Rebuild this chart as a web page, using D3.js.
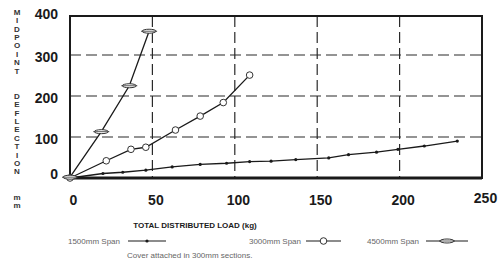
<!DOCTYPE html>
<html>
<head>
<meta charset="utf-8">
<script src="https://cdn.jsdelivr.net/npm/d3@7"></script>
<style>
  body { margin: 0; background: #fff; }
  svg { display: block; font-family: "Liberation Sans", Arial, sans-serif; }
</style>
</head>
<body>
<div id="chart"></div>
<script>
// 데이터: [하중(kg), 처짐(mm)]
const span1500 = [[0,0],[20,11],[32,14],[46,19],[62,27],[79,33],[95,36],[109,40],[122,41],[137,45],[157,49],[169,57],[186,63],[199,70],[215,78],[235,90]];
const span3000 = [[0,0],[22,42],[37,70],[46,75],[64,117],[79,151],[93,184],[109,251]];
const span4500 = [[0,2],[19,113],[36,225],[48,358]];

const xTicks = [0, 50, 100, 150, 200, 250];
const yTicks = [0, 100, 200, 300, 400];
const legendLabels = ['1500mm Span', '3000mm Span', '4500mm Span'];

const W = 502, H = 264;
const svg = d3.select('#chart').append('svg')
    .attr('width', W).attr('height', H);

const x = d3.scaleLinear().domain([0, 250]).range([70, 482]);
const y = d3.scaleLinear().domain([0, 400]).range([178, 14]);

const ink = '#1a1a1a';

// 격자 (점선)
svg.append('g').selectAll('line')
    .data(yTicks.slice(1, 4))
    .enter().append('line')
    .attr('x1', x(0)).attr('x2', x(250))
    .attr('y1', d => y(d)).attr('y2', d => y(d))
    .attr('stroke', '#2a2a2a').attr('stroke-width', 1.2)
    .attr('stroke-dasharray', '11,5');

svg.append('g').selectAll('line')
    .data(xTicks.slice(1, 5))
    .enter().append('line')
    .attr('x1', d => x(d)).attr('x2', d => x(d))
    .attr('y1', 16).attr('y2', y(0))
    .attr('stroke', '#2a2a2a').attr('stroke-width', 1.2)
    .attr('stroke-dasharray', '11,5');

// 테두리
svg.append('rect')
    .attr('x', x(0)).attr('y', 16)
    .attr('width', x(250) - x(0)).attr('height', y(0) - 16)
    .attr('fill', 'none').attr('stroke', ink).attr('stroke-width', 2);
svg.append('line')
    .attr('x1', x(0)).attr('x2', x(250))
    .attr('y1', y(0)).attr('y2', y(0))
    .attr('stroke', ink).attr('stroke-width', 3);

// Y축 눈금
const yAxis = svg.append('g')
    .attr('transform', 'translate(58,0)')
    .call(d3.axisLeft(y).tickValues(yTicks).tickSize(0).tickPadding(0));
yAxis.select('.domain').remove();
yAxis.selectAll('text')
    .attr('y', (d) => d === 0 ? -4 : (d === 400 ? 0 : 2))
    .style('font-size', '14px').style('font-weight', 'bold')
    .style('font-family', '"Liberation Sans", Arial, sans-serif')
    .attr('fill', ink);

// X축 눈금
const xAxis = svg.append('g')
    .attr('transform', 'translate(3,200)')
    .call(d3.axisBottom(x).tickValues(xTicks).tickSize(0).tickPadding(0));
xAxis.select('.domain').remove();
xAxis.selectAll('text')
    .attr('dy', '0.35em')
    .attr('y', d => d === 250 ? -2 : 0)
    .style('font-size', '14px').style('font-weight', 'bold')
    .style('font-family', '"Liberation Sans", Arial, sans-serif')
    .attr('fill', ink);

// Y축 제목 (세로로 쌓인 글자)
const yTitle = [
    { text: 'MIDPOINT', start: 12 },
    { text: 'DEFLECTION', start: 96 },
    { text: 'mm', start: 197 }
];
yTitle.forEach(part => {
    part.text.split('').forEach((ch, i) => {
        svg.append('text')
            .attr('x', 17).attr('y', part.start + i * 8.4)
            .attr('text-anchor', 'middle').attr('dy', '0.35em')
            .style('font-size', '8px').style('font-weight', 'bold')
            .attr('fill', '#333')
            .text(ch);
    });
});

// X축 제목
svg.append('text')
    .attr('x', 195).attr('y', 225).attr('dy', '0.35em')
    .attr('text-anchor', 'middle')
    .style('font-size', '8px').style('font-weight', 'bold')
    .attr('fill', ink)
    .text('TOTAL DISTRIBUTED LOAD (kg)');

// 라인
const line = d3.line().x(d => x(d[0])).y(d => y(d[1]));
const seriesData = [span1500, span3000, span4500];
seriesData.forEach(s => {
    svg.append('path')
        .datum(s)
        .attr('fill', 'none').attr('stroke', ink).attr('stroke-width', 1.3)
        .attr('d', line);
});

// 마커
function drawMarker(g, type, cx, cy) {
    if (type === 0) {
        g.append('circle').attr('cx', cx).attr('cy', cy).attr('r', 1.6).attr('fill', ink);
    } else if (type === 1) {
        g.append('circle').attr('cx', cx).attr('cy', cy).attr('r', 3.3)
            .attr('fill', '#fff').attr('stroke', '#333').attr('stroke-width', 1);
    } else {
        g.append('ellipse').attr('cx', cx).attr('cy', cy).attr('rx', 7).attr('ry', 2)
            .attr('fill', '#fff').attr('stroke', '#333').attr('stroke-width', 1);
        g.append('line').attr('x1', cx - 8).attr('x2', cx + 8).attr('y1', cy).attr('y2', cy)
            .attr('stroke', '#333').attr('stroke-width', 0.8);
    }
}
const markers = svg.append('g');
seriesData.forEach((s, si) => {
    s.forEach(d => drawMarker(markers, si, x(d[0]), y(d[1])));
});

// 범례
const legendPos = [
    { tx: 120, lx1: 128, lx2: 166 },
    { tx: 301, lx1: 306, lx2: 341 },
    { tx: 419, lx1: 426, lx2: 468 }
];
legendLabels.forEach((label, i) => {
    const p = legendPos[i];
    svg.append('text')
        .attr('x', p.tx).attr('y', 241).attr('dy', '0.35em')
        .attr('text-anchor', 'end')
        .style('font-size', '8px').attr('fill', '#666')
        .text(label);
    svg.append('line')
        .attr('x1', p.lx1).attr('x2', p.lx2).attr('y1', 241).attr('y2', 241)
        .attr('stroke', ink).attr('stroke-width', 1.2);
    drawMarker(svg, i, (p.lx1 + p.lx2) / 2, 241);
});

svg.append('text')
    .attr('x', 127).attr('y', 255).attr('dy', '0.35em')
    .style('font-size', '8px').attr('fill', '#666')
    .text('Cover attached in 300mm sections.');
</script>
</body>
</html>
